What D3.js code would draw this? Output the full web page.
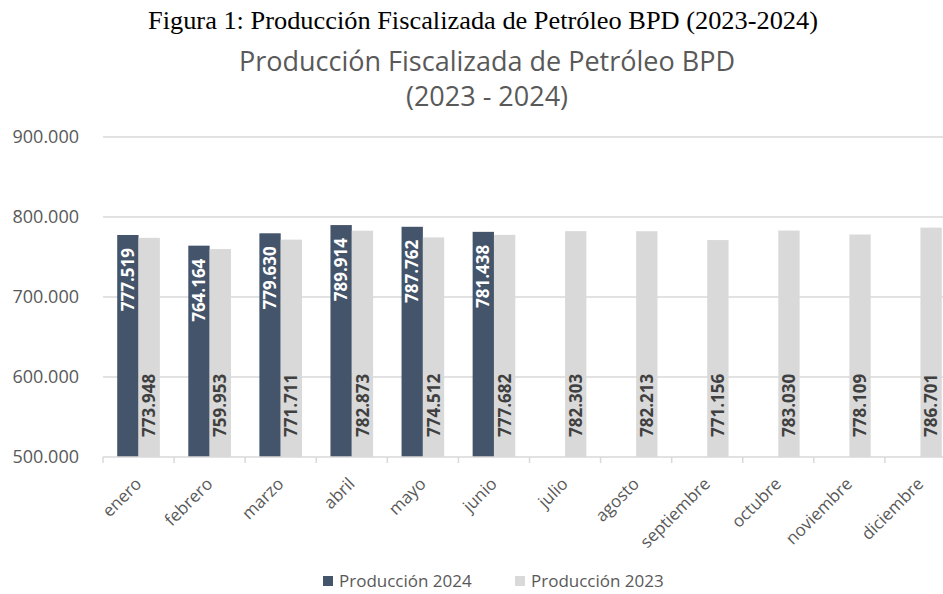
<!DOCTYPE html>
<html><head><meta charset="utf-8">
<script src="https://cdn.jsdelivr.net/npm/d3@7"></script>
<style>body{margin:0;background:#fff}svg{display:block}</style>
</head><body>
<svg id="c" width="943" height="594"></svg>
<script>
const months = ["enero","febrero","marzo","abril","mayo","junio","julio","agosto","septiembre","octubre","noviembre","diciembre"];
const prod2024 = [777519, 764164, 779630, 789914, 787762, 781438, null, null, null, null, null, null];
const prod2023 = [773948, 759953, 771711, 782873, 774512, 777682, 782303, 782213, 771156, 783030, 778109, 786701];
const yTicks = [500000, 600000, 700000, 800000, 900000];
const seriesNames = ["Producción 2024", "Producción 2023"];

(function () {
const fmt = d3.formatLocale({decimal: ",", thousands: ".", grouping: [3], currency: ["", ""]}).format(",d");
const svg = d3.select("#c");
const W = 943, H = 594;
const pLeft = 103, pRight = 956, pTop = 137, pBottom = 457;
const C24 = "#44546A", C23 = "#D9D9D9", GRID = "#D9D9D9", TXT = "#595959";

// caption
svg.append("text").attr("x", 483).attr("y", 29).attr("text-anchor", "middle")
  .attr("font-family", "Liberation Serif, Times New Roman, serif").attr("font-size", 25)
  .attr("fill", "#000").attr("textLength", 670).attr("lengthAdjust", "spacingAndGlyphs")
  .text("Figura 1: Producción Fiscalizada de Petróleo BPD (2023-2024)");
// title
const tt = svg.append("text").attr("text-anchor", "middle").attr("font-family", "Open Sans, sans-serif")
  .attr("font-size", 27).attr("fill", TXT);
tt.append("tspan").attr("x", 487).attr("y", 71).text("Producción Fiscalizada de Petróleo BPD");
tt.append("tspan").attr("x", 487).attr("y", 106).text("(2023 - 2024)");

const y = d3.scaleLinear().domain([500000, 900000]).range([pBottom, pTop]);
const x0 = d3.scaleBand().domain(months).range([pLeft, pRight]).paddingInner(0.4).paddingOuter(0.2);
const x1 = d3.scaleBand().domain(seriesNames).range([0, x0.bandwidth()]);

// gridlines
svg.append("g").selectAll("line").data(yTicks.filter(d => d > 500000)).join("line")
  .attr("x1", pLeft).attr("x2", W).attr("y1", d => y(d)).attr("y2", d => y(d))
  .attr("stroke", GRID).attr("stroke-width", 1.5);

// y axis labels
const yAxis = d3.axisLeft(y).tickValues(yTicks).tickFormat(fmt).tickSize(0).tickPadding(0);
const gy = svg.append("g").attr("transform", `translate(79,0)`).call(yAxis);
gy.select(".domain").remove();
gy.selectAll("text").attr("font-family", "Open Sans, sans-serif").attr("font-size", 18).attr("fill", TXT);

// bars
const g = svg.append("g");
months.forEach((m, i) => {
  const gx = x0(m);
  if (prod2024[i] != null) {
    g.append("rect").attr("x", gx + x1(seriesNames[0])).attr("width", x1.bandwidth())
      .attr("y", y(prod2024[i])).attr("height", pBottom - y(prod2024[i])).attr("fill", C24);
  }
  g.append("rect").attr("x", gx + x1(seriesNames[1])).attr("width", x1.bandwidth())
    .attr("y", y(prod2023[i])).attr("height", pBottom - y(prod2023[i])).attr("fill", C23);
});

// x axis
const xAxis = d3.axisBottom(x0).tickSize(0).tickFormat("");
const gxA = svg.append("g").attr("transform", `translate(0,${pBottom})`).call(xAxis);
gxA.select(".domain").attr("stroke", GRID).attr("stroke-width", 1.5).attr("d", `M${pLeft},0H${W}`);
const boundaries = d3.range(months.length + 1).map(i => pLeft + i * x0.step());
gxA.append("g").selectAll("line").data(boundaries).join("line")
  .attr("x1", d => d).attr("x2", d => d).attr("y1", 0).attr("y2", 6).attr("stroke", GRID).attr("stroke-width", 1.5);

// x labels
svg.append("g").selectAll("text").data(months).join("text")
  .attr("transform", d => `translate(${x0(d) + x0.bandwidth() / 2 + 4},${pBottom + 28}) rotate(-45)`)
  .attr("text-anchor", "end").attr("font-family", "Open Sans, sans-serif").attr("font-size", 17).attr("fill", TXT)
  .text(d => d);

// data labels
const lab = svg.append("g").attr("font-family", "Open Sans, sans-serif").attr("font-size", 17).attr("font-weight", "bold");
months.forEach((m, i) => {
  const gx = x0(m);
  if (prod2024[i] != null) {
    const cx = gx + x1(seriesNames[0]) + x1.bandwidth() / 2;
    lab.append("text").attr("transform", `translate(${cx},${y(prod2024[i]) + 13}) rotate(-90)`)
      .attr("text-anchor", "end").attr("dy", "0.36em").attr("fill", "#fff").text(fmt(prod2024[i]));
  }
  const cx2 = gx + x1(seriesNames[1]) + x1.bandwidth() / 2;
  lab.append("text").attr("transform", `translate(${cx2},${pBottom - 20}) rotate(-90)`)
    .attr("text-anchor", "start").attr("dy", "0.36em").attr("fill", "#404040").text(fmt(prod2023[i]));
});

// legend
const leg = svg.append("g").attr("font-family", "Open Sans, sans-serif").attr("font-size", 17).attr("fill", TXT);
const legX = [323, 515], legC = [C24, C23];
seriesNames.forEach((s, i) => {
  leg.append("rect").attr("x", legX[i]).attr("y", 576).attr("width", 10).attr("height", 10).attr("fill", legC[i]);
  leg.append("text").attr("x", legX[i] + 16).attr("y", 587).text(s);
});
})();
</script>
</body></html>
